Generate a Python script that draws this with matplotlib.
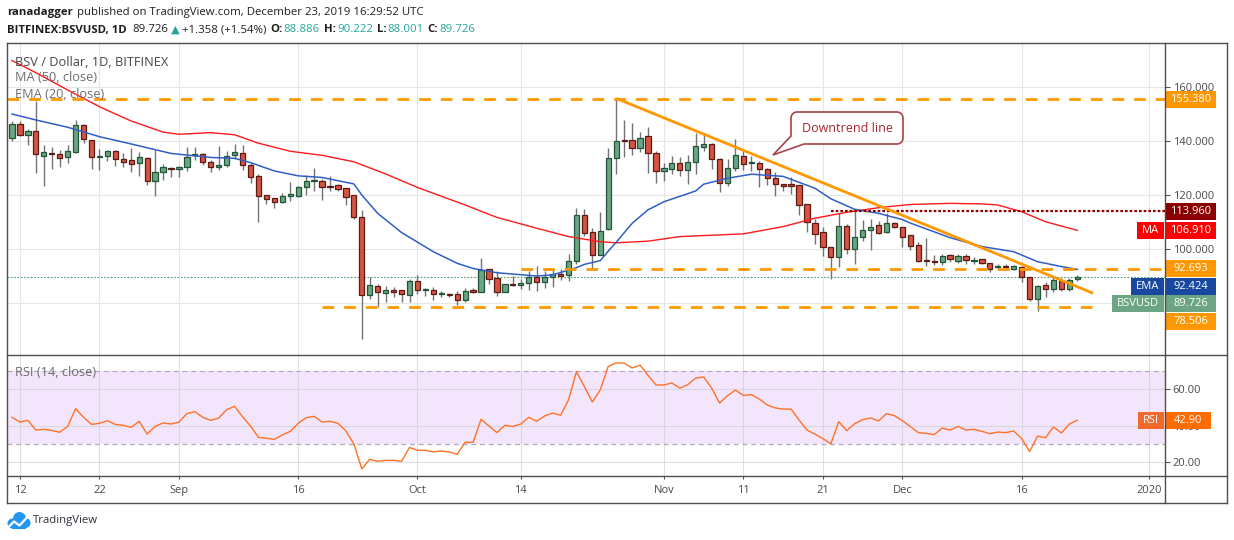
import matplotlib
matplotlib.use("Agg")
import matplotlib.pyplot as plt
from matplotlib import font_manager
from matplotlib.patches import Rectangle, Polygon, Circle
from matplotlib.lines import Line2D
from matplotlib.transforms import IdentityTransform
from matplotlib.ticker import FormatStrFormatter
import numpy as np
import pandas as pd

W, H = 1234, 540

# ---- data (BSV/USD daily, Bitfinex) ----
start = pd.Timestamp("2019-08-11")
dates = pd.date_range(start, "2019-12-23", freq="D")

opens = [141.2, 146.2, 142.3, 143.6, 134.3, 135.5, 135.1, 133.9, 136.0, 145.8,
         140.2, 133.9, 134.3, 136.2, 133.2, 132.8, 131.7, 133.6, 125.1, 128.4,
         130.0, 129.5, 130.2, 134.7, 135.1, 132.1, 130.5, 131.0, 134.7, 135.4,
         131.0, 126.9, 119.9, 118.8, 117.3, 119.5, 119.5, 122.8, 125.1, 125.2,
         123.3, 123.6, 122.5, 119.9, 111.7, 82.8, 86.2, 83.6, 84.8, 84.7,
         82.8, 88.0, 84.7, 85.0, 83.3, 83.3, 83.2, 81.0, 84.7, 84.1,
         92.5, 89.2, 84.0, 87.0, 86.5, 87.3, 89.6, 87.6, 89.6, 90.7,
         90.2, 95.4, 112.5, 106.2, 97.7, 107.3, 133.6, 140.4, 140.4, 137.5,
         141.7, 135.4, 128.8, 129.6, 132.0, 129.1, 132.2, 137.6, 138.9, 133.5,
         124.6, 129.9, 134.4, 131.9, 131.9, 129.5, 126.3, 124.1, 124.0, 123.6,
         116.5, 109.5, 106.2, 100.6, 97.2, 108.4, 99.9, 104.3, 106.9, 108.8,
         106.2, 109.5, 108.0, 105.1, 101.4, 95.9, 95.6, 95.2, 97.7, 95.4,
         97.5, 95.4, 96.2, 95.0, 93.3, 93.7, 92.7, 93.2, 89.6, 81.4,
         86.6, 85.1, 88.3, 85.1, 88.886]
highs = [147.4, 147.5, 144.3, 154.8, 138.5, 137.8, 136.7, 138.5, 147.8, 146.3,
         140.2, 137.0, 136.7, 136.7, 135.5, 137.4, 135.9, 133.9, 136.5, 131.5,
         130.5, 130.7, 137.8, 137.8, 135.7, 132.8, 138.1, 136.3, 138.9, 138.5,
         131.7, 127.7, 119.9, 118.8, 120.6, 124.7, 123.2, 127.3, 129.9, 125.9,
         127.0, 124.0, 122.5, 119.9, 114.4, 89.8, 87.0, 86.3, 85.8, 84.7,
         89.0, 90.2, 85.7, 85.8, 84.3, 83.6, 84.3, 85.7, 85.4, 96.7,
         92.5, 91.7, 86.9, 90.0, 88.8, 91.7, 93.7, 91.7, 92.5, 92.5,
         98.0, 115.2, 114.9, 107.8, 113.7, 137.5, 155.4, 147.8, 146.5, 143.5,
         145.3, 136.4, 132.0, 134.5, 134.0, 134.7, 143.1, 143.1, 139.1, 133.7,
         133.5, 140.6, 136.4, 134.4, 132.5, 130.0, 128.6, 124.1, 126.8, 123.6,
         116.5, 111.2, 108.3, 100.9, 113.2, 109.1, 114.5, 110.7, 111.2, 110.5,
         113.2, 110.1, 108.3, 105.1, 102.7, 104.0, 97.8, 98.1, 98.1, 98.0,
         98.1, 96.9, 96.4, 95.0, 94.3, 94.3, 93.9, 93.7, 89.6, 86.7,
         87.9, 89.5, 89.1, 89.1, 90.222]
lows = [140.1, 142.0, 138.6, 128.3, 123.5, 129.8, 130.5, 131.7, 135.4, 139.1,
        129.8, 129.4, 132.7, 130.9, 130.5, 128.6, 127.2, 123.8, 119.8, 125.7,
        126.8, 126.8, 129.0, 133.0, 131.0, 128.6, 129.4, 130.2, 133.2, 129.4,
        124.3, 110.1, 116.5, 115.1, 116.9, 117.9, 119.1, 120.1, 121.6, 118.3,
        121.6, 121.6, 116.4, 111.2, 66.8, 81.6, 78.4, 80.5, 82.4, 80.5,
        80.5, 83.2, 82.5, 81.2, 82.4, 82.1, 79.4, 80.3, 83.8, 84.1,
        87.0, 82.5, 84.0, 86.2, 85.1, 84.8, 84.4, 85.6, 86.0, 88.5,
        88.2, 94.4, 104.8, 92.3, 97.7, 107.0, 127.6, 134.1, 134.7, 136.0,
        128.3, 124.3, 125.2, 127.8, 127.2, 124.1, 127.8, 136.3, 129.5, 121.0,
        123.2, 129.0, 129.3, 128.9, 122.9, 123.7, 119.8, 121.6, 120.4, 112.7,
        106.4, 102.0, 97.4, 88.8, 93.5, 98.0, 94.3, 103.1, 99.8, 105.5,
        105.8, 107.7, 100.9, 99.6, 95.3, 93.8, 94.1, 94.1, 95.1, 94.7,
        94.3, 94.3, 94.3, 91.5, 92.2, 92.2, 92.2, 87.9, 80.9, 77.2,
        82.1, 84.2, 84.3, 84.6, 88.001]
closes = [146.2, 142.3, 143.7, 135.1, 135.8, 135.1, 133.6, 136.2, 145.8, 140.6,
          133.9, 134.4, 136.2, 133.2, 132.4, 131.4, 133.9, 125.1, 128.4, 130.2,
          129.5, 130.2, 133.9, 135.2, 132.1, 130.2, 131.0, 134.3, 135.8, 131.0,
          126.5, 119.5, 118.6, 117.5, 119.5, 120.2, 122.8, 125.2, 125.3, 123.1,
          122.8, 122.4, 119.1, 111.7, 82.8, 86.5, 84.0, 84.7, 84.1, 83.2,
          88.0, 85.0, 85.3, 83.2, 83.5, 82.8, 81.0, 84.3, 84.2, 92.1,
          88.8, 84.0, 86.9, 86.5, 87.4, 89.6, 87.6, 89.6, 90.7, 90.1,
          95.4, 112.5, 106.0, 97.7, 106.5, 133.6, 139.9, 140.0, 137.5, 141.0,
          135.4, 129.0, 129.9, 132.0, 129.1, 132.2, 138.1, 138.8, 133.5, 124.6,
          129.9, 134.7, 131.5, 132.3, 129.5, 126.2, 124.1, 123.3, 123.3, 116.4,
          109.9, 105.7, 100.6, 97.2, 108.4, 99.9, 104.4, 106.9, 108.3, 106.0,
          109.5, 108.0, 104.6, 101.1, 95.7, 95.6, 95.1, 97.5, 96.2, 97.5,
          95.9, 95.9, 95.0, 92.7, 93.7, 93.2, 93.7, 89.8, 81.4, 86.2,
          85.1, 88.5, 85.3, 88.368, 89.726]

# MA(50) and EMA(20) read at sample candles (candle index, value)
ma_idx = [0, 3, 7, 11, 15, 19, 21, 25, 28, 31, 35, 39, 43, 47, 51, 57, 61,
          66, 70, 74, 76, 80, 84, 92, 97, 101, 105, 109, 113, 118, 122, 124,
          127, 130, 134]
ma_vals = [169.8, 165.3, 158.9, 152.7, 147.4, 143.3, 142.5, 143.1, 142.3,
           139.2, 136.2, 134.7, 132.3, 127.8, 122.8, 116.3, 111.7, 107.7,
           104.6, 102.7, 102.3, 102.9, 104.6, 105.6, 108.3, 111.4, 113.6,
           115.3, 116.5, 116.9, 116.7, 116.3, 113.8, 110.1, 106.91]
ema_idx = [0, 3, 7, 11, 15, 20, 22, 25, 28, 30, 33, 36, 39, 43, 44, 46, 49,
           53, 56, 58, 61, 66, 68, 71, 72, 74, 75, 76, 78, 80, 82, 86, 87, 90,
           93, 97, 98, 101, 103, 106, 109, 112, 113, 118, 122, 126, 129, 132,
           134]
ema_vals = [150.0, 147.8, 145.1, 141.6, 138.9, 135.4, 134.8, 133.9, 133.6,
            132.0, 128.9, 127.1, 126.5, 124.1, 120.0, 113.2, 106.1, 99.0,
            94.7, 92.8, 91.2, 90.0, 90.4, 93.1, 94.3, 95.7, 99.2, 102.5,
            109.5, 114.5, 117.5, 121.5, 124.0, 126.2, 127.7, 126.9, 125.8,
            122.5, 118.6, 114.7, 113.2, 110.9, 109.6, 104.2, 100.9, 99.0,
            95.3, 93.5, 92.424]

rsi = [44.5, 41.9, 42.8, 37.5, 37.9, 37.3, 36.3, 39.5, 49.2, 44.5,
       40.6, 41.2, 42.6, 40.6, 40.1, 39.0, 42.3, 35.3, 39.5, 41.4,
       40.8, 41.9, 46.5, 47.6, 44.5, 42.8, 44.1, 48.7, 50.5, 44.8,
       39.7, 33.5, 33.0, 32.4, 34.8, 36.8, 41.2, 44.3, 45.0, 41.9,
       42.3, 41.2, 37.0, 29.9, 16.2, 21.5, 20.4, 20.9, 20.9, 20.4,
       28.0, 26.4, 26.4, 25.5, 26.0, 25.5, 24.2, 30.8, 30.8, 43.4,
       39.7, 36.1, 40.1, 39.5, 40.8, 44.5, 42.3, 45.2, 46.8, 45.6,
       54.0, 69.5, 61.3, 52.9, 59.5, 72.4, 74.3, 74.2, 71.5, 73.1,
       67.5, 62.2, 62.2, 63.3, 60.5, 62.4, 66.0, 66.6, 60.5, 52.3,
       56.3, 59.4, 56.5, 56.9, 54.5, 51.2, 49.6, 49.0, 49.0, 43.0,
       37.5, 35.3, 32.8, 30.0, 42.1, 37.2, 41.0, 43.2, 44.1, 42.5,
       46.5, 45.4, 42.6, 39.4, 36.1, 35.7, 35.0, 38.6, 37.5, 39.5,
       37.5, 37.9, 36.8, 35.5, 36.4, 36.1, 37.0, 32.8, 25.7, 34.2,
       33.3, 39.2, 35.9, 40.8, 42.9]

# horizontal levels: value, first date, last date (None = to the axis)
levels = [155.380, 113.960, 92.693, 78.506]
level_from = [None, "2019-11-22", "2019-10-14", "2019-09-19"]
level_to = [None, None, None, "2019-12-26"]
level_colors = ["#ff9800", "#8b0000", "#ff9800", "#ff9800"]

trend_dates = ["2019-10-26", "2019-12-25"]
trend_vals = [155.8, 83.6]

tick_dates = ["2019-08-12", "2019-08-22", "2019-09-01", "2019-09-16",
              "2019-10-01", "2019-10-14", "2019-11-01", "2019-11-11",
              "2019-11-21", "2019-12-01", "2019-12-16", "2020-01-01"]
tick_labels = ["12", "22", "Sep", "16", "Oct", "14", "Nov", "11", "21",
               "Dec", "16", "2020"]


def day(d):
    return (pd.Timestamp(d) - start).days


# ---- fonts ----
names = {f.name for f in font_manager.fontManager.ttflist}
if "Liberation Sans Narrow" in names:
    head_font, hs = "Liberation Sans Narrow", 1.0
else:
    head_font, hs = "Open Sans", 0.82
axis_font = "Open Sans"
plt.rcParams["font.family"] = [axis_font, "DejaVu Sans"]

fig = plt.figure(figsize=(W / 100, H / 100), dpi=100)


def fx(px):
    return px / W


def fy(py):
    return 1 - py / H


def D(px, py):
    return (px, H - py)


XL, XR = 7, 1165
x_lo, x_hi = (XL - 12) / 7.95, (XR - 12) / 7.95

ax = fig.add_axes([fx(XL), fy(355), (XR - XL) / W, (355 - 43) / H])
rax = fig.add_axes([fx(XL), fy(476), (XR - XL) / W, (476 - 355) / H])
for a in (ax, rax):
    a.set_xlim(x_lo, x_hi)
    for s in a.spines.values():
        s.set_visible(False)
ax.set_ylim(60.74, 176.3)
rax.set_ylim(12.33, 78.63)

grid_c = "#e6e6e6"
tick_x = [day(d) for d in tick_dates]
for t in tick_x:
    ax.axvline(t, color=grid_c, lw=0.8, zorder=0)
for v in [80, 100, 120, 140, 160]:
    ax.axhline(v, color=grid_c, lw=0.8, zorder=0)

# candles
x = np.arange(len(dates))
o, h, l, c = map(np.array, (opens, highs, lows, closes))
up = c >= o
lo = np.minimum(o, c)
bh = np.maximum(np.abs(c - o), 0.35)
ax.vlines(x, l, h, color="#737375", lw=1.0, zorder=3)
ax.bar(x[up], bh[up], bottom=lo[up], width=0.66, color="#6ba583",
       edgecolor="#225437", linewidth=0.9, zorder=3.5)
ax.bar(x[~up], bh[~up], bottom=lo[~up], width=0.66, color="#d75442",
       edgecolor="#5b1a13", linewidth=0.9, zorder=3.5)

# moving averages
ax.plot(ma_idx, ma_vals, color="#ff1a1a", lw=1.0, zorder=4)
ax.plot(ema_idx, ema_vals, color="#2f5fc4", lw=1.1, zorder=4)

# current price line
ax.axhline(closes[-1], color="#4f9c6e", lw=0.8, ls=(0, (1.5, 1.5)), zorder=2)

# support / resistance levels
for v, f0, f1, col in zip(levels, level_from, level_to, level_colors):
    x0 = x_lo if f0 is None else day(f0)
    x1 = x_hi if f1 is None else day(f1)
    if col == "#8b0000":
        ax.hlines(v, x0, x1, color=col, lw=1.6, ls=(0, (1.2, 0.9)), zorder=5)
    else:
        ax.hlines(v, x0, x1, color=col, lw=2.0, ls=(0, (4.2, 3.6)), zorder=5)

# downtrend line
ax.plot([day(d) for d in trend_dates], trend_vals, color="#ff9800", lw=2.0,
        zorder=6, solid_capstyle="butt")

ax.yaxis.tick_right()
ax.set_yticks([80, 100, 120, 140, 160])
ax.yaxis.set_major_formatter(FormatStrFormatter("%.3f"))
ax.tick_params(axis="y", length=3.5, width=0.8, color="#555555",
               labelsize=8, labelcolor="#4a4a4a", pad=2)
ax.tick_params(axis="x", bottom=False, labelbottom=False)

# ---- RSI pane ----
rax.axhspan(30, 70, color="#f3e6fc", zorder=0, lw=0)
for t in tick_x:
    rax.axvline(t, color="#c8c8c8", alpha=0.55, lw=0.8, zorder=0.5)
for v in [20, 40, 60]:
    rax.axhline(v, color="#c8c8c8", alpha=0.55, lw=0.8, zorder=0.5)
for v in [30, 70]:
    rax.axhline(v, color="#b7a9bd", lw=0.9, ls=(0, (4, 3)), zorder=1)
rax.plot(x, rsi, color="#ff7126", lw=1.0, zorder=3)
rax.yaxis.tick_right()
rax.set_yticks([20, 40, 60])
rax.yaxis.set_major_formatter(FormatStrFormatter("%.2f"))
rax.tick_params(axis="y", length=3.5, width=0.8, color="#555555",
                labelsize=8, labelcolor="#4a4a4a", pad=2)
rax.set_xticks(tick_x)
rax.set_xticklabels(tick_labels)
rax.tick_params(axis="x", length=2.5, width=0.8, color="#555555",
                labelsize=8, labelcolor="#4a4a4a", pad=4)

# ---- frame ----
frame_c = "#4d4d4d"
segs = [((7, 43), (1227, 43)), ((7, 503), (1227, 503)),
        ((7, 43), (7, 503)), ((1227, 43), (1227, 503)),
        ((7, 355), (1227, 355)), ((7, 476), (1227, 476)),
        ((1165, 43), (1165, 503))]
for p0, p1 in segs:
    a0, a1 = D(*p0), D(*p1)
    fig.add_artist(Line2D([a0[0], a1[0]], [a0[1], a1[1]],
                          transform=IdentityTransform(), color=frame_c,
                          lw=1.0, zorder=20))

renderer = fig.canvas.get_renderer()


# ---- price tags on the axis ----
def tag(py, text, color, name=None, name_color=None, vw=50):
    fig.add_artist(Rectangle(D(1166, py + 8.5), vw, 17,
                             transform=IdentityTransform(), facecolor=color,
                             edgecolor="none", zorder=10))
    fig.text(fx(1166 + vw / 2), fy(py), text, color="white", ha="center",
             va="center", fontsize=8, zorder=11)
    if name:
        t = fig.text(fx(1159), fy(py), name, color="white", ha="right",
                     va="center", fontsize=8, zorder=11)
        w = t.get_window_extent(renderer).width + 10
        fig.add_artist(Rectangle(D(1164 - w, py + 8.5), w, 17,
                                 transform=IdentityTransform(),
                                 facecolor=name_color or color,
                                 edgecolor="none", zorder=10))


tags = [(levels[0], None, "#ff9800", None),
        (levels[1], None, "#8b0000", None),
        (ma_vals[-1], "MA", "#ff0000", None),
        (levels[2], None, "#ff9800", None),
        (ema_vals[-1], "EMA", "#1848a0", None),
        (closes[-1], "BSVUSD", "#6ba583", None),
        (levels[3], None, "#ff9800", None)]
tags.sort(key=lambda t: -t[0])
prev = -100
for v, nm, col, ncol in tags:
    py = H - ax.transData.transform((0, v))[1]
    py = max(py, prev + 17.5)
    prev = py
    tag(py, f"{v:.3f}", col, nm, ncol)

py = H - rax.transData.transform((0, rsi[-1]))[1]
tag(py, f"{rsi[-1]:.2f}", "#ff6d00", "RSI", "#f2692a", vw=45)

# ---- callout ----
bx0, bx1, by0, by1, r = 791, 903, 112, 144, 6
arc = np.linspace(0, np.pi / 2, 7)
pts = [(bx0, by0 + r)]
pts += [(bx0 + r - r * np.cos(a), by0 + r - r * np.sin(a)) for a in arc]
pts += [(bx1 - r + r * np.sin(a), by0 + r - r * np.cos(a)) for a in arc]
pts += [(bx1 - r + r * np.cos(a), by1 - r + r * np.sin(a)) for a in arc]
pts += [(bx0 + 13, by1), (773, 155), (bx0, by1 - 8)]
fig.add_artist(Polygon([D(px, py) for px, py in pts], closed=True,
                       transform=IdentityTransform(), facecolor="white",
                       edgecolor="#a8434b", lw=1.2, zorder=12))
fig.text(fx(847), fy(128), "Downtrend line", color="#a3282f", ha="center",
         va="center", fontsize=9, zorder=13)

# ---- legends inside panes ----
fig.text(fx(15), fy(62), "BSV / Dollar, 1D, BITFINEX", color="#474747",
         fontsize=9.2, va="center", zorder=15)
fig.text(fx(15), fy(78), "MA (50, close)", color="#6e6e6e",
         fontsize=9.2, va="center", zorder=15)
fig.text(fx(15), fy(94), "EMA (20, close)", color="#6e6e6e",
         fontsize=9.2, va="center", zorder=15)
fig.text(fx(15), fy(373), "RSI (14, close)", color="#6e6e6e",
         fontsize=9.2, va="center", zorder=15)


# ---- header ----
def run(x0, py, pieces, size):
    xx = x0
    for s, col, wt, gap in pieces:
        xx += gap
        t = fig.text(fx(xx), fy(py), s, color=col, fontweight=wt,
                     fontsize=size, family=[head_font, "DejaVu Sans"],
                     ha="left", va="center")
        xx += t.get_window_extent(renderer).width


dark, teal = "#1e1e1e", "#26a69a"
chg = closes[-1] - closes[-2]
run(7, 13, [("ranadagger", dark, "bold", 0),
            ("published on TradingView.com, December 23, 2019 16:29:52 UTC",
             dark, "normal", 4)], 9.95 * hs)
run(7, 30, [("BITFINEX:BSVUSD, 1D", dark, "bold", 0),
            (f"{closes[-1]:.3f}", dark, "normal", 6),
            ("\u25b2", teal, "normal", 2),
            (f"+{chg:.3f} (+{100 * chg / closes[-2]:.2f}%)", dark, "normal", 3),
            ("O:", dark, "bold", 4), (f"{opens[-1]:.3f}", teal, "normal", 1),
            ("H:", dark, "bold", 4), (f"{highs[-1]:.3f}", teal, "normal", 1),
            ("L:", dark, "bold", 4), (f"{lows[-1]:.3f}", teal, "normal", 1),
            ("C:", dark, "bold", 4), (f"{closes[-1]:.3f}", teal, "normal", 1)],
    9.95 * hs)

# ---- footer logo ----
blue = "#2196f3"
for cx, cy, rr in [(12.5, 523.5, 5), (19.5, 518.5, 6.5), (25.5, 523, 5)]:
    fig.add_artist(Circle(D(cx, cy), rr, transform=IdentityTransform(),
                          facecolor=blue, edgecolor="none", zorder=5))
fig.add_artist(Rectangle(D(12, 528.5), 14, 6, transform=IdentityTransform(),
                         facecolor=blue, edgecolor="none", zorder=5))
zz = [D(8.5, 527), D(14, 521.5), D(19.5, 525.5), D(26, 518.5)]
fig.add_artist(Line2D([p[0] for p in zz], [p[1] for p in zz],
                      transform=IdentityTransform(), color="white", lw=1.6,
                      zorder=6))
fig.text(fx(33), fy(521), "TradingView", color="#2a2e39",
         fontsize=10 * hs, family=head_font, va="center")

fig.savefig("out.png", dpi=100)
